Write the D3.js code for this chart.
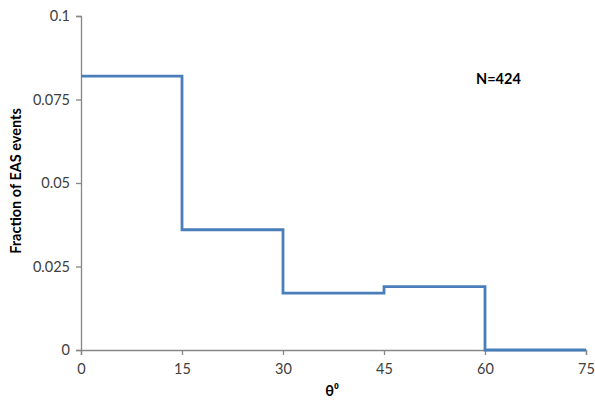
<!DOCTYPE html>
<html>
<head>
<meta charset="utf-8">
<script src="https://cdn.jsdelivr.net/npm/d3@7"></script>
<style>
  html, body { margin: 0; padding: 0; background: #fff; }
  svg { display: block; }
  text { font-family: Lato, "Open Sans", sans-serif; }
</style>
</head>
<body>
<svg id="chart" width="595" height="403"></svg>
<script>
// Zenith-angle bins (degrees) and fraction of EAS events in each bin
const binEdges = [0, 15, 30, 45, 60, 75];
const fractions = [0.082, 0.036, 0.017, 0.019, 0];
const xTicks = [0, 15, 30, 45, 60, 75];
const yTicks = [0, 0.025, 0.05, 0.075, 0.1];
const yTickLabels = ["0", "0.025", "0.05", "0.075", "0.1"];
const countLabel = "N=424";

const svg = d3.select("#chart");
const plotLeft = 81, plotRight = 586, plotTop = 16, plotBottom = 350;

const x = d3.scaleLinear().domain([0, 75]).range([plotLeft, plotRight]);
const y = d3.scaleLinear().domain([0, 0.1]).range([plotBottom, plotTop]);

const axisColor = "#868686";
const labelColor = "#404040";

// Y axis
const yAxis = svg.append("g")
  .attr("transform", `translate(${plotLeft},0)`)
  .call(d3.axisLeft(y).tickValues(yTicks).tickSize(5).tickPadding(6)
    .tickFormat((d, i) => yTickLabels[i]));
yAxis.select(".domain").attr("stroke", axisColor).attr("stroke-width", 1.3);
yAxis.selectAll(".tick line").attr("stroke", axisColor).attr("stroke-width", 1.3);
yAxis.selectAll(".tick text").attr("fill", labelColor).attr("font-size", 14.5);

// X axis
const xAxis = svg.append("g")
  .attr("transform", `translate(0,${plotBottom})`)
  .call(d3.axisBottom(x).tickValues(xTicks).tickSize(5).tickPadding(9));
xAxis.select(".domain").attr("stroke", axisColor).attr("stroke-width", 1.3);
xAxis.selectAll(".tick line").attr("stroke", axisColor).attr("stroke-width", 1.3);
xAxis.selectAll(".tick text").attr("fill", labelColor).attr("font-size", 14.5);

// Step histogram outline
const stepPoints = binEdges.map((e, i) => [e, fractions[Math.min(i, fractions.length - 1)]]);
const line = d3.line()
  .x(d => x(d[0]))
  .y(d => y(d[1]))
  .curve(d3.curveStepAfter);
svg.append("path")
  .datum(stepPoints)
  .attr("d", line)
  .attr("fill", "none")
  .attr("stroke", "#4a7ebb")
  .attr("stroke-width", 2.8)
  .attr("stroke-linejoin", "miter");

// Axis titles
svg.append("text")
  .attr("x", 332).attr("y", 396)
  .attr("text-anchor", "middle")
  .attr("font-size", 14.5).attr("font-weight", "bold").attr("fill", "#000")
  .text("θ⁰");

svg.append("text")
  .attr("transform", "translate(21,181) rotate(-90)")
  .attr("text-anchor", "middle")
  .attr("font-size", 14.5).attr("font-weight", "bold").attr("fill", "#000")
  .text("Fraction of EAS events");

// Sample size annotation
svg.append("text")
  .attr("x", 476).attr("y", 84)
  .attr("font-size", 14.5).attr("font-weight", "bold").attr("fill", "#000")
  .text(countLabel);
</script>
</body>
</html>
